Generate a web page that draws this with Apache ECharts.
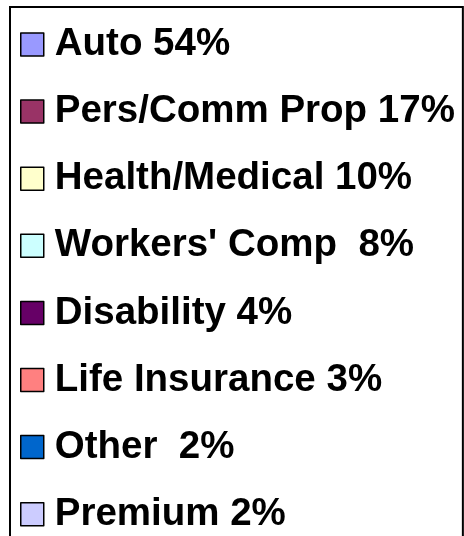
<!DOCTYPE html>
<html>
<head>
<meta charset="utf-8">
<style>
	html, body { margin: 0; padding: 0; background: #fff; }
	#main { width: 464px; height: 536px; }
</style>
<script src="https://cdn.jsdelivr.net/npm/echarts@6/dist/echarts.min.js"></script>
</head>
<body>
<div id="main"></div>
<script>
// 图例的名称 (保留原图中的双空格)
var categories = ['Auto', 'Pers/Comm Prop', 'Health/Medical', "Workers' Comp ", 'Disability', 'Life Insurance', 'Other ', 'Premium'];
// 百分比
var percents = [54, 17, 10, 8, 4, 3, 2, 2];
// 颜色
var colors = ['#9999FF', '#993366', '#FFFFCC', '#CCFFFF', '#660066', '#FF8080', '#0066CC', '#CCCCFF'];

var chart = echarts.init(document.getElementById('main'));
var pieData = categories.map(function (name, i) {
	return { name: name, value: percents[i] };
});

var option = {
	animation: false,
	color: colors,
	legend: {
		orient: 'vertical',
		left: 10,
		top: 7,
		height: 800,
		selectedMode: false,
		backgroundColor: '#fff',
		borderColor: '#000',
		borderWidth: 2,
		padding: [18, 8, 20, 10],
		itemWidth: 23,
		itemHeight: 23,
		itemGap: 28.1,
		icon: 'rect',
		itemStyle: { borderColor: '#000', borderWidth: 1.5 },
		formatter: function (name) {
			var i = categories.indexOf(name);
			return name + ' ' + percents[i] + '%';
		},
		textStyle: {
			color: '#000',
			fontFamily: 'Liberation Sans, Arial, sans-serif',
			fontWeight: 'bold',
			fontSize: 38.5,
			padding: [0, 0, 0, 6]
		}
	},
	series: [{
		type: 'pie',
		silent: true,
		center: [-500, -500],
		radius: 10,
		label: { show: false },
		data: pieData
	}]
};
chart.setOption(option);
</script>
</body>
</html>
